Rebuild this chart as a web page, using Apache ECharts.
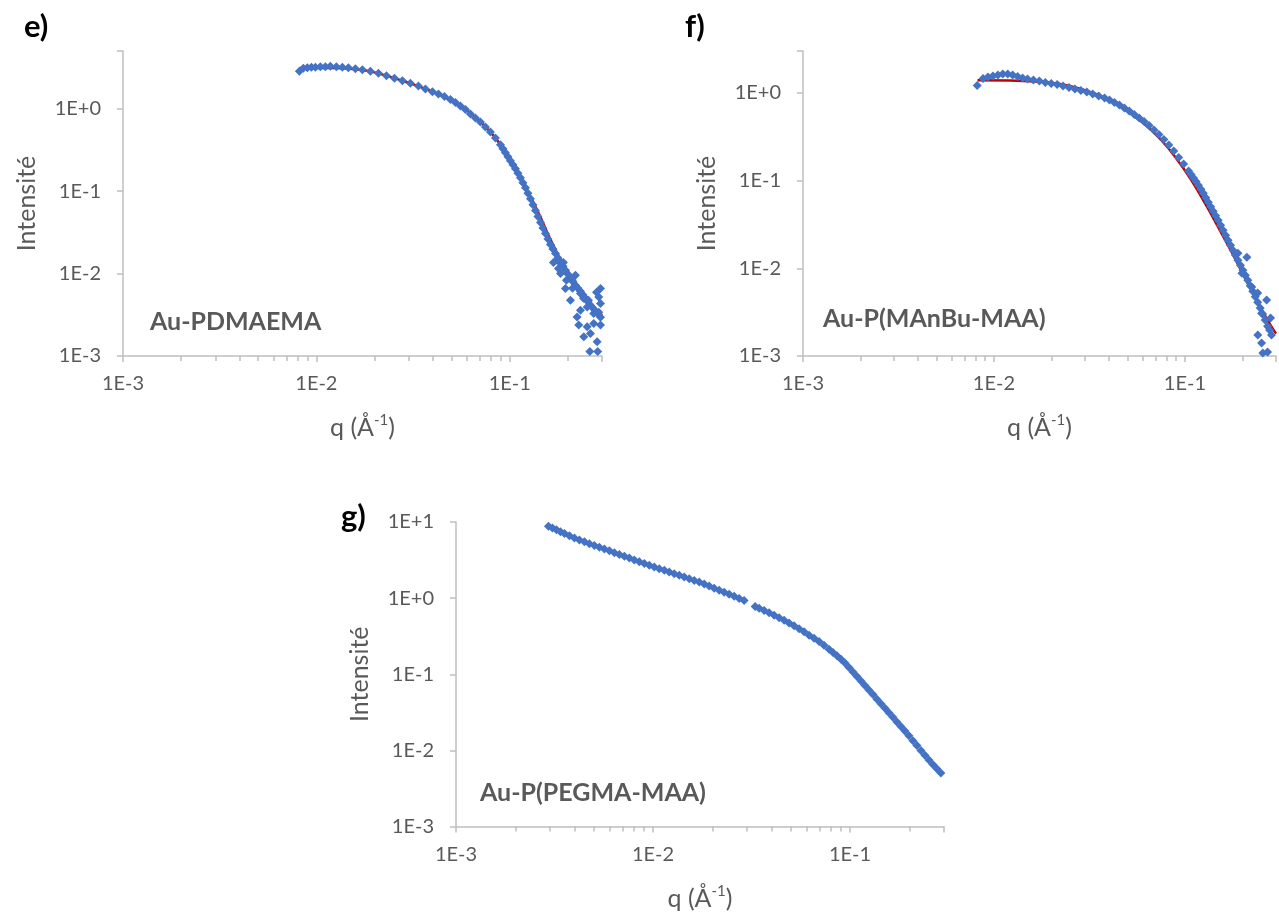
<!DOCTYPE html>
<html>
<head>
<meta charset="utf-8">
<script src="https://cdn.jsdelivr.net/npm/echarts@6.0.0/dist/echarts.min.js"></script>
<style>
html, body { margin: 0; padding: 0; background: #fff; }
#cn { width: 1279px; height: 912px; }
</style>
</head>
<body>
<div id="cn"></div>
<script>
'use strict';

// e) Au-PDMAEMA  (q en Å-1, intensité)
const qE = [0.00817, 0.00856, 0.00898, 0.00942, 0.00988, 0.01049, 0.01113, 0.01181, 0.01269, 0.01363, 0.01464, 0.01591, 0.0173, 0.01902,
    0.02094, 0.02303, 0.02533, 0.02786, 0.03064, 0.03371, 0.03664, 0.03982, 0.04277, 0.04595, 0.04934, 0.05238, 0.05559, 0.05901,
    0.06264, 0.06648, 0.07055, 0.07487, 0.07947, 0.08435, 0.08951, 0.09222, 0.09502, 0.09787, 0.1008, 0.1039, 0.1070, 0.1103,
    0.1136, 0.1170, 0.1206, 0.1242, 0.1280, 0.1318, 0.1358, 0.1399, 0.1442, 0.1485, 0.1530, 0.1576, 0.1624, 0.1673, 0.1724, 0.1776,
    0.1830, 0.1885, 0.1942, 0.2000, 0.2061, 0.2123, 0.2187, 0.2253, 0.2321, 0.2391, 0.2464, 0.2538, 0.2615, 0.2694, 0.2775, 0.2860, 0.2946];
const iE = [2.85, 3.093, 3.137, 3.181, 3.181, 3.225, 3.225, 3.27, 3.225, 3.181, 3.137, 3.05, 2.966, 2.85,
    2.692, 2.511, 2.343, 2.185, 2.038, 1.875, 1.725, 1.60, 1.50, 1.40, 1.288, 1.185, 1.075, 0.975,
    0.861, 0.770, 0.689, 0.600, 0.522, 0.4415, 0.3635, 0.3252, 0.291, 0.2603, 0.2329, 0.2084, 0.1864, 0.1645,
    0.1452, 0.1263, 0.1099, 0.0943, 0.0809, 0.0685, 0.058, 0.0491, 0.0415, 0.03564, 0.0306, 0.02625, 0.02253, 0.01988, 0.01754, 0.01547,
    0.01366, 0.01222, 0.01093, 0.00978, 0.00875, 0.00794, 0.0072, 0.00663, 0.0061, 0.00553, 0.00502, 0.00455, 0.00413, 0.0038, 0.00349, 0.00322, 0.00296];
// queue bruitée
const qNoiseE = [0.1941, 0.206, 0.232, 0.223, 0.2515, 0.2275, 0.2415, 0.2615, 0.272, 0.283, 0.2887, 0.2946, 0.2594, 0.285, 0.2515, 0.272,
    0.2946, 0.2103, 0.183, 0.176, 0.1683, 0.1786, 0.1896, 0.1965, 0.2111, 0.2187, 0.2406, 0.2553, 0.2809, 0.2887, 0.2946, 0.2321];
const iNoiseE = [0.00657, 0.00475, 0.00572, 0.00298, 0.00394, 0.00237, 0.00171, 0.00188, 0.00248, 0.00149, 0.0052, 0.00657, 0.00113, 0.00113, 0.00226, 0.00328,
    0.00433, 0.00828, 0.00998, 0.01443, 0.01366, 0.01155, 0.01366, 0.00828, 0.00663, 0.00951, 0.00502, 0.00475, 0.00593, 0.0034, 0.00237, 0.00359];
const qFitE = [0.0082, 0.012, 0.016, 0.02, 0.03, 0.045, 0.06, 0.075, 0.09, 0.105, 0.12, 0.14, 0.16, 0.18, 0.2, 0.23, 0.26, 0.3];
const iFitE = [3.1, 3.12, 3.0, 2.75, 2.05, 1.42, 0.95, 0.6, 0.36, 0.2, 0.115, 0.056, 0.028, 0.016, 0.0105, 0.0066, 0.0045, 0.0031];

// f) Au-P(MAnBu-MAA)
const qF = [0.00817, 0.00877, 0.00931, 0.00988, 0.01049, 0.01113, 0.01181, 0.01254, 0.01331, 0.01413, 0.01499, 0.01610, 0.01730, 0.01858,
    0.01995, 0.02143, 0.02302, 0.02473, 0.02656, 0.02852, 0.03064, 0.03291, 0.03535, 0.03796, 0.04030, 0.04277, 0.04540, 0.04819,
    0.05114, 0.05428, 0.05762, 0.06115, 0.06491, 0.06889, 0.07311, 0.07760, 0.08237, 0.08741, 0.09278, 0.09847, 0.1045, 0.1077,
    0.1109, 0.1143, 0.1177, 0.1213, 0.1249, 0.1287, 0.1326, 0.1366, 0.1407, 0.1450, 0.1494, 0.1539, 0.1586, 0.1634, 0.1683, 0.1734,
    0.1786, 0.1841, 0.1896, 0.1954, 0.2013, 0.2074, 0.2136, 0.2200, 0.2267, 0.2336, 0.2406, 0.2479, 0.2553, 0.2631, 0.2710, 0.2775, 0.2842];
const iF = [1.211, 1.455, 1.513, 1.553, 1.594, 1.637, 1.637, 1.594, 1.532, 1.474, 1.436, 1.398, 1.362, 1.310,
    1.276, 1.243, 1.195, 1.149, 1.105, 1.062, 1.021, 0.969, 0.9196, 0.8727, 0.8281, 0.7757, 0.7266, 0.6716,
    0.6208, 0.5664, 0.5168, 0.4715, 0.4246, 0.3774, 0.3354, 0.2942, 0.2548, 0.2177, 0.1836, 0.1549, 0.1289, 0.1176,
    0.1073, 0.0979, 0.0882, 0.0794, 0.0715, 0.0636, 0.0565, 0.0502, 0.0446, 0.0397, 0.0353, 0.0309, 0.0271, 0.0238, 0.02088, 0.01832,
    0.01607, 0.01409, 0.01237, 0.01085, 0.00951, 0.00835, 0.00732, 0.00634, 0.00549, 0.00475, 0.00411, 0.00352, 0.00301, 0.00257, 0.00219, 0.00198, 0.00173];
const qNoiseF = [0.241, 0.252, 0.256, 0.271, 0.1896, 0.1989, 0.2111, 0.2240, 0.2406, 0.2523, 0.2679, 0.2809];
const iNoiseF = [0.00173, 0.00141, 0.00108, 0.00111, 0.01485, 0.0088, 0.01338, 0.0061, 0.00521, 0.00308, 0.00434, 0.00271];
const qFitF = [0.0082, 0.012, 0.018, 0.025, 0.035, 0.045, 0.06, 0.075, 0.09, 0.11, 0.13, 0.15, 0.17, 0.19, 0.21, 0.24, 0.27, 0.3];
const iFitF = [1.39, 1.38, 1.33, 1.2, 0.95, 0.72, 0.46, 0.29, 0.18, 0.095, 0.051, 0.029, 0.0175, 0.011, 0.0072, 0.0042, 0.0026, 0.0018];

// g) Au-P(PEGMA-MAA)
const qG = [0.002945, 0.003086, 0.003235, 0.003389, 0.003551, 0.003765, 0.003991, 0.004231, 0.004486, 0.004755, 0.005041, 0.005344,
    0.005665, 0.006005, 0.006366, 0.006749, 0.007154, 0.007585, 0.00804, 0.008523, 0.009035, 0.009577, 0.01015, 0.01076, 0.01141,
    0.01209, 0.01282, 0.01359, 0.01441, 0.01528, 0.01619, 0.01717, 0.0182, 0.01929, 0.02045, 0.02168, 0.02298, 0.02436, 0.02583,
    0.02738, 0.02902, 0.033, 0.03458, 0.03666, 0.03886, 0.04119, 0.04367, 0.04629, 0.04907, 0.05202, 0.05514, 0.05845, 0.06196,
    0.06569, 0.06963, 0.07381, 0.07824, 0.08199, 0.08592, 0.09004, 0.09434, 0.09884, 0.1036, 0.1085, 0.1137, 0.1191, 0.1248, 0.1308,
    0.137, 0.1436, 0.1505, 0.1576, 0.1652, 0.1731, 0.1814, 0.19, 0.1991, 0.2086, 0.2186, 0.2291, 0.24, 0.2515, 0.2635, 0.2761, 0.2893];
const iG = [8.787, 8.324, 7.885, 7.469, 7.075, 6.622, 6.141, 5.8, 5.495, 5.188, 4.914, 4.656,
    4.41, 4.178, 3.946, 3.737, 3.54, 3.354, 3.177, 3.009, 2.851, 2.7, 2.557, 2.438, 2.316,
    2.2, 2.097, 1.992, 1.893, 1.798, 1.709, 1.623, 1.528, 1.439, 1.351, 1.273, 1.194, 1.125, 1.056,
    0.991, 0.933, 0.777, 0.738, 0.689, 0.641, 0.596, 0.554, 0.5127, 0.4712, 0.4331, 0.3969, 0.3606, 0.3264,
    0.2964, 0.2684, 0.2401, 0.2129, 0.1933, 0.1745, 0.1575, 0.1401, 0.1227, 0.1072, 0.0933, 0.0815, 0.0712, 0.062, 0.0541,
    0.0471, 0.041, 0.0357, 0.0312, 0.02716, 0.02365, 0.02065, 0.01793, 0.01552, 0.01339, 0.01155, 0.00997, 0.0086, 0.00747, 0.00654, 0.00575, 0.00504];

const panelNames = ['e)', 'f)', 'g)'];
const sampleNames = ['Au-PDMAEMA', 'Au-P(MAnBu-MAA)', 'Au-P(PEGMA-MAA)'];
const yMax = [5, 3, 10];

const strFont = 'Lato, "Open Sans", sans-serif';
const colGrey = '#595959';
const colAxis = '#bfbfbf';
const colBlue = '#4472c4';

const fmtPow = (v) => {
    const l = Math.log10(v);
    const e = Math.round(l);
    if (Math.abs(l - e) > 1e-6) return '';
    return '1E' + (e >= 0 ? '+' : '') + e;
};

const pts = (xs, ys) => xs.map((x, i) => [x, ys[i]]);

const makeX = (g) => ({
    type: 'log',
    logBase: 10,
    gridIndex: g,
    min: 0.001,
    max: 0.3,
    name: '{a|q (Å}{s|-1}{a|)}',
    nameLocation: 'middle',
    nameGap: 57,
    nameTextStyle: {
        rich: {
            a: { fontFamily: strFont, fontSize: 25, color: colGrey, lineHeight: 30 },
            s: { fontFamily: strFont, fontSize: 15, color: colGrey, verticalAlign: 'top', lineHeight: 15 }
        }
    },
    axisLine: { show: true, lineStyle: { color: colAxis, width: 1.5 } },
    axisTick: { show: true, length: 6, lineStyle: { color: colAxis, width: 1.5 } },
    minorTick: { show: true, splitNumber: 9, length: 5, lineStyle: { color: colAxis, width: 1.5 } },
    splitLine: { show: false },
    axisLabel: { formatter: fmtPow, fontFamily: strFont, fontSize: 20, color: colGrey, margin: 18 }
});

const makeY = (g) => ({
    type: 'log',
    logBase: 10,
    gridIndex: g,
    min: 0.001,
    max: yMax[g],
    name: 'Intensité',
    nameLocation: 'middle',
    nameGap: 84,
    nameTextStyle: { fontFamily: strFont, fontSize: 25, color: colGrey },
    axisLine: { show: true, lineStyle: { color: colAxis, width: 1.5 } },
    axisTick: { show: true, length: 6, lineStyle: { color: colAxis, width: 1.5 } },
    splitLine: { show: false },
    axisLabel: { formatter: fmtPow, fontFamily: strFont, fontSize: 20, color: colGrey, margin: 22 }
});

const scatter = (g, data) => ({
    type: 'scatter',
    xAxisIndex: g,
    yAxisIndex: g,
    symbol: 'diamond',
    symbolSize: 9,
    itemStyle: { color: colBlue, opacity: 1 },
    z: 3,
    data: data
});

const fit = (g, xs, ys) => ({
    type: 'line',
    xAxisIndex: g,
    yAxisIndex: g,
    smooth: true,
    showSymbol: false,
    lineStyle: { color: '#c00000', width: 2.5 },
    z: 2,
    data: pts(xs, ys)
});

const textEl = (str, left, top, font, fill) => ({
    type: 'text',
    left: left,
    top: top,
    style: { text: str, font: font, fill: fill }
});

const chart = echarts.init(document.getElementById('cn'), null, { renderer: 'canvas' });

const option = {
    animation: false,
    backgroundColor: '#fff',
    grid: [
        { left: 123, top: 51, width: 479, height: 305 },
        { left: 803, top: 51, width: 479, height: 305 },
        { left: 456, top: 522, width: 488, height: 306 }
    ],
    xAxis: [makeX(0), makeX(1), makeX(2)],
    yAxis: [makeY(0), makeY(1), makeY(2)],
    series: [
        fit(0, qFitE, iFitE),
        scatter(0, pts(qE, iE).concat(pts(qNoiseE, iNoiseE))),
        fit(1, qFitF, iFitF),
        scatter(1, pts(qF, iF).concat(pts(qNoiseF, iNoiseF))),
        scatter(2, pts(qG, iG))
    ],
    graphic: [
        textEl(panelNames[0], 24, 11, 'bold 31px Lato, sans-serif', '#000'),
        textEl(panelNames[1], 685, 11, 'bold 31px Lato, sans-serif', '#000'),
        textEl(panelNames[2], 341, 501, 'bold 31px Lato, sans-serif', '#000'),
        textEl(sampleNames[0], 150, 309, 'bold 25px Lato, sans-serif', colGrey),
        textEl(sampleNames[1], 823, 306, 'bold 25px Lato, sans-serif', colGrey),
        textEl(sampleNames[2], 480, 780, 'bold 25px Lato, sans-serif', colGrey)
    ]
};

chart.setOption(option);
</script>
</body>
</html>
